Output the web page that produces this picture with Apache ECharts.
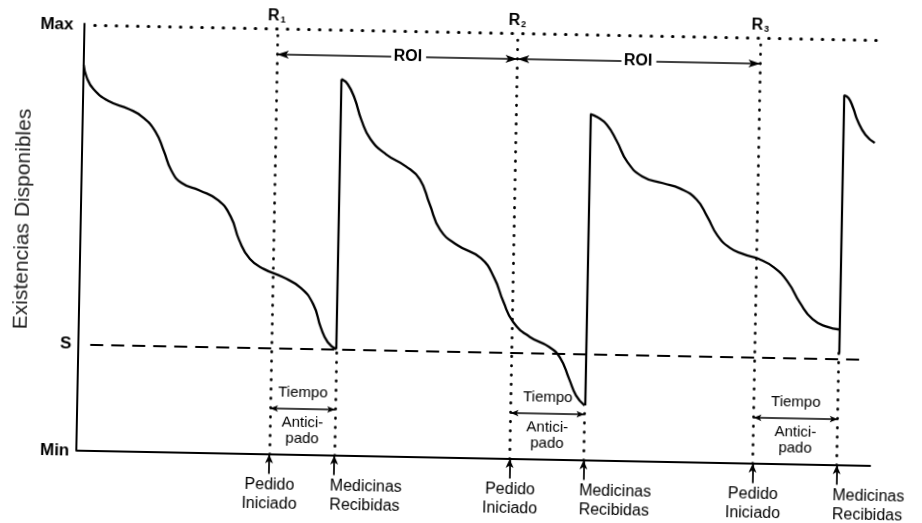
<!DOCTYPE html>
<html>
<head>
<meta charset="utf-8">
<script src="https://cdn.jsdelivr.net/npm/echarts@6/dist/echarts.min.js"></script>
<style>
  html, body { margin: 0; padding: 0; background: #fff; }
  #chart { width: 922px; height: 523px; transform: rotate(1.1deg); transform-origin: 461px 261.5px; }
</style>
</head>
<body>
<div id="chart"></div>
<script>
// Niveles de existencias (Min = 0, existencia de seguridad S, Max)
const nivelMin = 0;
const nivelS = 25;
const nivelMax = 100;
const etiquetasNivel = { 0: 'Min', 25: 'S', 100: 'Max' };

// Consumo de existencias en cada ciclo: [tiempo, existencias]
const ciclo1 = [[0, 90.7], [0.4, 87.8], [1.3, 85.0], [3.2, 82.3], [5.8, 80.5], [7.6, 78.6], [9.2, 75.3],
  [10.3, 70.8], [11.3, 66.2], [12.6, 63.4], [14.9, 61.7], [17.3, 59.4], [18.9, 55.6], [20.0, 50.2],
  [21.4, 45.8], [23.2, 43.5], [25.6, 41.7], [27.9, 39.2], [29.5, 35.4], [30.5, 30.0], [31.4, 26.6], [32.5, 25]];
const ciclo2 = [[32.5, 88.5], [33.3, 87.3], [34.2, 84.0], [35.1, 79.0], [36.3, 74.5], [38.3, 71.0],
  [40.8, 68.3], [42.6, 65.3], [43.9, 59.5], [45.3, 53.5], [47.5, 50.0], [50.5, 47.0], [52.2, 42.5],
  [53.4, 37.0], [54.7, 32.2], [56.8, 28.8], [59.3, 26.5], [60.7, 24.0], [61.9, 19.0], [62.8, 15.2], [63.9, 12.9]];
const ciclo3 = [[63.9, 81.4], [64.8, 80.7], [66.0, 79.0], [67.3, 75.2], [68.7, 70.3], [70.6, 67.0],
  [73.2, 65.5], [75.4, 64.3], [77.5, 61.8], [78.9, 57.8], [80.2, 53.5], [81.8, 50.6], [83.5, 49.2],
  [85.5, 48.1], [87.4, 46.2], [89.2, 42.8], [90.8, 37.9], [92.4, 34.2], [94.2, 32.5], [95.8, 31.9]];
const ciclo4 = [[95.8, 87.0], [96.4, 86.3], [97.0, 84.0], [97.6, 81.0], [98.6, 77.8], [99.8, 75.9]];

// Llegada de cada pedido: [tiempo, existencias antes, existencias después]
const reposiciones = [[32.5, 25, 88.5], [63.9, 12.9, 81.4], [95.8, 26.4, 87.0]];
// Momento en que se inicia cada pedido (R1, R2, R3)
const pedidos = [24.3, 54.6, 85.2];

// Textos
const tituloEje = 'Existencias Disponibles';
const textoROI = 'ROI';
const textoTiempo = ['Tiempo', 'Antici-', 'pado'];
const textoPedido = ['Pedido', 'Iniciado'];
const textoRecibidas = ['Medicinas', 'Recibidas'];

// Estilos
const negro = '#000';
const fuente = '"Liberation Sans", Arial, Helvetica, sans-serif';
const yR = 103, yROI = 94, yTiempo = 10.8, yFlecha = -4.6, yLinea1 = -7.2, yLinea2 = -11.6;

const base = { silent: true, animation: false };

function curva(datos) {
  return Object.assign({ type: 'line', data: datos, smooth: 0.5, symbol: 'none',
    lineStyle: { color: negro, width: 2.3 }, z: 4 }, base);
}

function grupoLineas(segmentos, estilo, simbolo, tam) {
  return Object.assign({
    type: 'line', data: [], symbol: 'none',
    markLine: {
      silent: true, animation: false,
      symbol: simbolo || ['none', 'none'],
      symbolSize: tam || [6, 10],
      label: { show: false },
      lineStyle: estilo,
      emphasis: { disabled: true },
      data: segmentos
    }
  }, base);
}

const seg = (x1, y1, x2, y2, s1, s2) => {
  const a = { coord: [x1, y1] }, b = { coord: [x2, y2] };
  if (s1) a.symbol = s1;
  if (s2) b.symbol = s2;
  return [a, b];
};

// Líneas de referencia
const lineaMax = [seg(1.3, nivelMax, 99.8, nivelMax)];
const lineaS = [seg(1.5, nivelS, 98.5, nivelS)];
const verticalesR = pedidos.map(p => seg(p, nivelMin, p, nivelMax));
const verticalesRec = reposiciones.map(r => seg(r[0], nivelMin, r[0], r[1]));
const subidas = reposiciones.map(r => seg(r[0], r[1], r[0], r[2]));

// Flechas ROI, partidas para dejar sitio al texto
const centrosROI = [40.8, 69.8];
const flechasROI = [];
centrosROI.forEach((c, i) => {
  flechasROI.push(seg(pedidos[i], yROI, c - 2.1, yROI, 'arrow', 'none'));
  flechasROI.push(seg(c + 2.3, yROI, pedidos[i + 1], yROI, 'none', 'arrow'));
});
const flechasTiempo = pedidos.map((p, i) => seg(p, yTiempo, reposiciones[i][0], yTiempo));
const flechasAbajo = [];
pedidos.forEach((p, i) => {
  flechasAbajo.push(seg(p, yFlecha, p, nivelMin));
  flechasAbajo.push(seg(reposiciones[i][0], yFlecha, reposiciones[i][0], nivelMin));
});

// Textos anclados a coordenadas de datos
const textos = [];
function texto(x, y, t, extra) {
  textos.push({ value: [x, y], name: t, label: Object.assign({}, extra || {}) });
}
texto(-7.3, 54.2, tituloEje, { rotate: 90, fontSize: 21, color: '#222' });
pedidos.forEach((p, i) => {
  const rec = reposiciones[i][0];
  const medio = (p + rec) / 2;
  texto(p - 0.1, yR, 'R' + (i + 1), { formatter: '{r|R}{s|' + (i + 1) + '}' });
  texto(medio, yTiempo + 3.7, textoTiempo[0]);
  texto(medio, yTiempo - 3.3, textoTiempo[1]);
  texto(medio, yTiempo - 6.9, textoTiempo[2]);
  texto(p + 0.1, yLinea1, textoPedido[0], { fontSize: 16 });
  texto(p + 0.1, yLinea2, textoPedido[1], { fontSize: 16 });
  texto(rec - 0.5, yLinea1, textoRecibidas[0], { fontSize: 16, align: 'left' });
  texto(rec - 0.5, yLinea2, textoRecibidas[1], { fontSize: 16, align: 'left' });
});
centrosROI.forEach(c => texto(c, yROI, textoROI, { fontSize: 16, fontWeight: 'bold' }));

const option = {
  backgroundColor: '#fff',
  animation: false,
  grid: { left: 80, right: 48, top: 11.2, bottom: 1.2, containLabel: false, outerBoundsMode: 'none' },
  xAxis: {
    type: 'value', min: 0, max: 100,
    axisLine: { show: true, onZero: true, lineStyle: { color: negro, width: 1.8 } },
    axisTick: { show: false }, axisLabel: { show: false }, splitLine: { show: false }
  },
  yAxis: {
    type: 'value', min: -15, max: 105, interval: 5,
    axisLine: { show: false }, axisTick: { show: false }, splitLine: { show: false },
    axisLabel: {
      margin: 7, color: negro, fontFamily: fuente, fontSize: 17, fontWeight: 'bold',
      formatter: v => {
        const t = etiquetasNivel[v];
        if (!t) return '';
        return v === nivelMax ? '{m|' + t + '}' : t;
      },
      rich: { m: { color: negro, fontFamily: fuente, fontSize: 17, fontWeight: 'bold', padding: [0, 4, 0, 0] } }
    }
  },
  series: [
    // Eje vertical de existencias, de Min a Max
    Object.assign({ type: 'line', data: [[0, nivelMin], [0, nivelMax + 0.5]], symbol: 'none',
      lineStyle: { color: negro, width: 2 } }, base),
    curva(ciclo1), curva(ciclo2), curva(ciclo3), curva(ciclo4),
    grupoLineas(subidas, { color: negro, width: 2.2, type: 'solid' }),
    grupoLineas(lineaMax, { color: negro, width: 3, type: [0.5, 10.2], cap: 'round' }),
    grupoLineas(verticalesR.concat(verticalesRec), { color: negro, width: 2.7, type: [0.5, 8.8], cap: 'round' }),
    grupoLineas(lineaS, { color: negro, width: 2.2, type: [13, 8] }),
    grupoLineas(flechasROI, { color: negro, width: 1.7, type: 'solid' }, ['none', 'none'], [6, 12]),
    grupoLineas(flechasTiempo, { color: negro, width: 1.7, type: 'solid' }, ['arrow', 'arrow'], [5, 8]),
    grupoLineas(flechasAbajo, { color: negro, width: 1.7, type: 'solid' }, ['none', 'arrow'], [6, 9]),
    Object.assign({
      type: 'scatter', data: textos, symbolSize: 0, clip: false, z: 10,
      itemStyle: { opacity: 1 },
      label: {
        show: true, position: 'inside', formatter: '{b}', color: negro, opacity: 1, fontFamily: fuente,
        fontSize: 15, align: 'center', verticalAlign: 'middle',
        rich: {
          r: { color: negro, fontFamily: fuente, fontSize: 16, fontWeight: 'bold' },
          s: { color: negro, fontFamily: fuente, fontSize: 9, fontWeight: 'bold', padding: [7, 0, 0, 1] }
        }
      }
    }, base)
  ]
};

const chart = echarts.init(document.getElementById('chart'));
chart.setOption(option);
</script>
</body>
</html>
